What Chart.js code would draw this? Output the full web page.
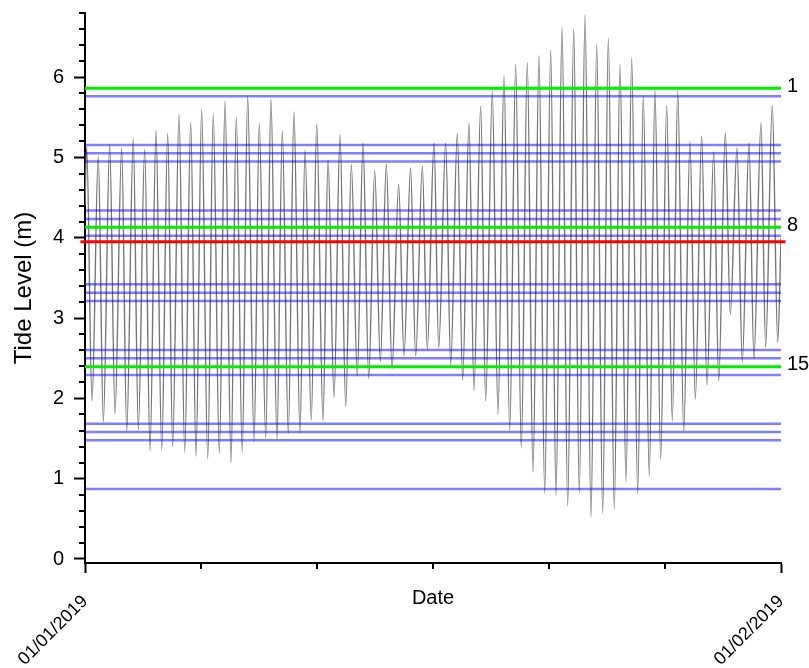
<!DOCTYPE html>
<html><head><meta charset="utf-8">
<script src="https://cdn.jsdelivr.net/npm/chart.js@4.4.1/dist/chart.umd.min.js"></script>
<style>html,body{margin:0;padding:0;background:#fff}#wrap{width:809px;height:668px;position:relative}</style>
</head><body><div id="wrap"><canvas id="c"></canvas></div>
<script>
// Tide extrema (hours since 01/01/2019 00:00) and levels (m)
const highTimes = [1.8,14.2,26.4,39.2,51.6,63.8,75.9,88.4,100.5,113.0,124.7,137.1,149.7,161.7,173.9,186.3,198.8,210.9,223.4,235.2,247.7,259.8,272.6,284.7,297.2,309.7,322.1,335.3,348.0,360.6,373.1,385.6,398.0,410.5,423.0,435.4,447.9,460.4,472.8,485.3,497.8,509.9,522.4,534.5,547.0,559.4,571.9,584.4,596.8,609.3,621.8,633.6,646.7,659.2,672.1,684.5,697.0,709.8,722.6,734.7];
const highLevels = [5.13,5.02,5.16,5.12,5.23,5.10,5.34,5.30,5.54,5.44,5.60,5.54,5.70,5.50,5.76,5.42,5.73,5.33,5.57,5.09,5.42,4.97,5.28,4.91,5.18,4.84,4.92,4.66,4.87,4.89,5.18,5.18,5.30,5.43,5.64,5.82,6.02,6.16,6.18,6.27,6.34,6.63,6.60,6.78,6.41,6.49,6.16,6.24,5.76,5.84,5.65,5.83,5.20,5.27,5.07,5.31,5.12,5.18,5.43,5.65];
const lowTimes = [7.5,19.6,32.1,44.6,57.0,69.5,82.0,93.7,106.6,118.7,131.2,143.6,156.1,168.1,180.7,193.2,205.2,217.3,229.8,241.9,254.4,266.2,278.7,291.1,303.3,315.7,328.2,341.0,353.5,365.9,378.1,390.9,403.7,415.8,428.3,441.5,454.0,466.4,478.9,491.4,503.5,516.0,528.4,540.9,553.4,565.8,578.3,590.8,603.2,615.4,627.8,640.0,652.4,664.9,677.4,689.8,702.6,715.1,727.6,740.5];
const lowLevels = [1.97,1.71,1.81,1.59,1.61,1.35,1.36,1.40,1.33,1.28,1.25,1.32,1.20,1.33,1.46,1.51,1.49,1.57,1.57,1.73,1.72,2.01,1.90,2.28,2.25,2.46,2.37,2.53,2.53,2.61,2.63,2.42,2.23,2.10,1.97,1.80,1.60,1.38,1.08,0.82,0.79,0.66,0.82,0.52,0.57,0.62,0.96,0.81,1.03,1.24,1.72,1.59,1.99,2.17,2.22,3.05,2.45,2.50,2.64,2.70];
const edgeTimes = [0, 744];
const edgeLevels = [4.4, 4.0];

// Reference levels (m)
const blueLines = [5.764,5.157,5.054,4.949,4.339,4.235,4.027,3.422,3.317,3.214,2.603,2.500,2.292,1.685,1.582,1.479,0.872];
const greenLines = [5.863,4.132,2.395];
const greenLabels = ['1','8','15'];
const redLines = [3.952];
const lineSpan = [0, 744];
const redSpan = [-4.8, 748.8];

// Axes
const xTicks = [0,124,248,372,496,620,744];
const xTickLabels = ['01/01/2019','','','','','','01/02/2019'];
const xMajorTicks = [0,744];
const yTicks = [0,1,2,3,4,5,6];
const yMinorTicks = [0.2,0.4,0.6,0.8,1.2,1.4,1.6,1.8,2.2,2.4,2.6,2.8,3.2,3.4,3.6,3.8,4.2,4.4,4.6,4.8,5.2,5.4,5.6,5.8,6.2,6.4,6.6,6.8];

const FONT = '"Liberation Sans", Arial, sans-serif';
Chart.defaults.font.family = FONT;
Chart.defaults.color = '#000';

const tidePoints = []
  .concat(highTimes.map((t,i)=>({x:t,y:highLevels[i]})))
  .concat(lowTimes.map((t,i)=>({x:t,y:lowLevels[i]})))
  .concat(edgeTimes.map((t,i)=>({x:t,y:edgeLevels[i]})))
  .sort((a,b)=>a.x-b.x);

const hLine = (v, span) => [{x:span[0],y:v},{x:span[1],y:v}];
const datasets = [];
redLines.forEach(v=>datasets.push({data:hLine(v,redSpan),borderColor:'#ff0000',borderWidth:3,pointRadius:0,order:0,clip:false}));
greenLines.forEach(v=>datasets.push({data:hLine(v,lineSpan),borderColor:'#00ee00',borderWidth:3,pointRadius:0,order:1}));
blueLines.forEach(v=>datasets.push({data:hLine(v,lineSpan),borderColor:'rgba(0,0,255,0.5)',borderWidth:2.5,pointRadius:0,order:2}));
datasets.push({data:tidePoints,borderColor:'rgb(118,118,118)',borderWidth:1.4,pointRadius:0,cubicInterpolationMode:'monotone',order:3});

const extraTicks = {
  id:'extraTicks',
  afterDraw(chart){
    const {ctx, chartArea:a, scales:{x,y}} = chart;
    ctx.save();
    ctx.strokeStyle = '#000'; ctx.lineWidth = 2;
    ctx.beginPath();
    yMinorTicks.forEach(v=>{const py=Math.round(y.getPixelForValue(v)); ctx.moveTo(a.left-1,py); ctx.lineTo(a.left-6,py);});
    xTicks.forEach(v=>{ if(xMajorTicks.includes(v)) return; const px=Math.round(x.getPixelForValue(v)); ctx.moveTo(px,a.bottom+1); ctx.lineTo(px,a.bottom+6);});
    ctx.stroke();
    ctx.fillStyle = '#000'; ctx.font = '20px '+FONT; ctx.textAlign='left'; ctx.textBaseline='middle';
    greenLines.forEach((v,i)=>ctx.fillText(greenLabels[i], a.right+6, y.getPixelForValue(v)-2));
    ctx.restore();
  }
};

new Chart(document.getElementById('c'), {
  type:'line',
  data:{datasets},
  plugins:[extraTicks],
  options:{
    responsive:true, maintainAspectRatio:false, animation:false, devicePixelRatio:1,
    layout:{padding:{left:0,right:28,top:13,bottom:0}},
    plugins:{legend:{display:false},tooltip:{enabled:false}},
    scales:{
      x:{type:'linear',min:0,max:744,
        afterBuildTicks:s=>{s.ticks=xTicks.map(v=>({value:v}));},
        afterFit:s=>{s.height=105;s.paddingLeft=0;s.paddingRight=0;},
        ticks:{autoSkip:false,minRotation:45,maxRotation:45,padding:18,font:{size:18},color:'#000',
          callback:(v,i)=>xTickLabels[i]},
        grid:{drawOnChartArea:false,tickLength:10,tickWidth:2,
          tickColor:c=>(c.tick && xMajorTicks.includes(c.tick.value))?'#000':'rgba(0,0,0,0)'},
        border:{display:true,color:'#000',width:2},
        title:{display:true,text:'Date',font:{size:20},color:'#000',padding:{top:0,bottom:58}}
      },
      y:{type:'linear',min:-0.05,max:6.8,
        afterBuildTicks:s=>{s.ticks=yTicks.map(v=>({value:v}));},
        afterFit:s=>{s.width=85;s.paddingTop=0;s.paddingBottom=0;},
        ticks:{font:{size:20},color:'#000',padding:10,callback:v=>String(v)},
        grid:{drawOnChartArea:false,tickLength:11,tickWidth:2,tickColor:'#000'},
        border:{display:true,color:'#000',width:2},
        title:{display:true,text:'Tide Level (m)',font:{size:24},color:'#000',padding:{top:10,bottom:0}}
      }
    }
  }
});
</script></body></html>
